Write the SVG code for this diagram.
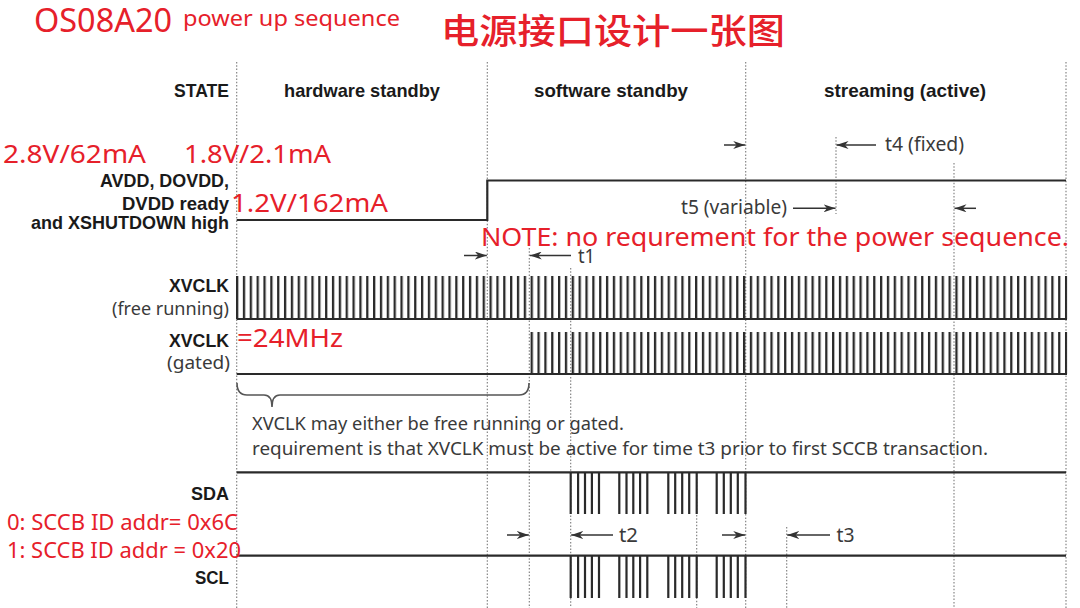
<svg xmlns="http://www.w3.org/2000/svg" width="1080" height="608" viewBox="0 0 1080 608">
<style>
.red{fill:#e6202a;font-family:"Noto Sans","Liberation Sans",sans-serif}
.cjk{fill:#e6202a;font-family:"Noto Sans CJK SC","Noto Sans",sans-serif;font-weight:500}
.lbl{fill:#1a1a1a;font-family:"Liberation Sans",Arial,sans-serif;font-weight:bold;font-size:19px}
.txt{fill:#3a3a3a;font-family:"Noto Sans","Liberation Sans",sans-serif;font-size:18px}
.tl{fill:#3a3a3a;font-family:"Noto Sans","Liberation Sans",sans-serif;font-size:19px}
.dot{stroke:#7a7a7a;stroke-width:1.1;stroke-dasharray:1.5 1.8;fill:none}
.sig{stroke:#2a2a2a;stroke-width:2.2;fill:none}
.arr{stroke:#333;stroke-width:1.5;fill:none;marker-end:url(#ah)}
.brace{stroke:#555;stroke-width:1.6;fill:none}
</style>
<defs>
<marker id="ah" viewBox="0 0 12 8" refX="12" refY="4" markerWidth="12" markerHeight="8" markerUnits="userSpaceOnUse" orient="auto"><path d="M0,0 L12,4 L0,8 L3.5,4 Z" fill="#333"/></marker>
<pattern id="clk" x="236" y="0" width="6.851" height="608" patternUnits="userSpaceOnUse"><rect x="0" y="0" width="2.3" height="608" fill="#2a2a2a"/></pattern>
</defs>
<rect x="0" y="0" width="1080" height="608" fill="#ffffff"/>

<g id="gridlines">
<line class="dot" x1="236.7" y1="62" x2="236.7" y2="608"/>
<line class="dot" x1="487.3" y1="62" x2="487.3" y2="608"/>
<line class="dot" x1="529.3" y1="248" x2="529.3" y2="608"/>
<line class="dot" x1="570.7" y1="268" x2="570.7" y2="608"/>
<line class="dot" x1="696.7" y1="472" x2="696.7" y2="608"/>
<line class="dot" x1="745.7" y1="62" x2="745.7" y2="608"/>
<line class="dot" x1="786.7" y1="527" x2="786.7" y2="608"/>
<line class="dot" x1="836" y1="137" x2="836" y2="214"/>
<line class="dot" x1="954" y1="163" x2="954" y2="608"/>
<line class="dot" x1="1066" y1="62" x2="1066" y2="608"/>
</g>

<g id="title">
<text class="red" x="34" y="32" font-size="32" textLength="138" lengthAdjust="spacingAndGlyphs">OS08A20</text>
<text class="red" x="183" y="26" font-size="22" textLength="217" lengthAdjust="spacingAndGlyphs">power up sequence</text>
<text class="cjk" x="441" y="44" font-size="35" textLength="344" lengthAdjust="spacingAndGlyphs">电源接口设计一张图</text>
</g>

<g id="state-row">
<text class="lbl" x="229" y="96.5" text-anchor="end" textLength="55" lengthAdjust="spacingAndGlyphs">STATE</text>
<text class="lbl" x="284" y="96.5" textLength="156" lengthAdjust="spacingAndGlyphs">hardware standby</text>
<text class="lbl" x="534" y="96.5" textLength="154" lengthAdjust="spacingAndGlyphs">software standby</text>
<text class="lbl" x="824" y="96.5" textLength="162" lengthAdjust="spacingAndGlyphs">streaming (active)</text>
</g>

<g id="power-signal">
<text class="lbl" x="229" y="187" text-anchor="end" font-size="18" textLength="129" lengthAdjust="spacingAndGlyphs">AVDD, DOVDD,</text>
<text class="lbl" x="229" y="209.5" text-anchor="end" font-size="18" textLength="107" lengthAdjust="spacingAndGlyphs">DVDD ready</text>
<text class="lbl" x="229" y="228.5" text-anchor="end" font-size="18" textLength="198" lengthAdjust="spacingAndGlyphs">and XSHUTDOWN high</text>
<path class="sig" d="M236.7,220 H487.3 V180.5 H1066"/>
</g>

<g id="xvclk-free">
<text class="lbl" x="229" y="292" text-anchor="end" textLength="60" lengthAdjust="spacingAndGlyphs">XVCLK</text>
<text class="txt" x="229" y="315" text-anchor="end" textLength="117" lengthAdjust="spacingAndGlyphs">(free running)</text>
<rect x="236" y="276" width="831.3" height="43" fill="url(#clk)"/>
<line class="sig" x1="236.7" y1="319" x2="1067" y2="319"/>
</g>

<g id="xvclk-gated">
<text class="lbl" x="229" y="347" text-anchor="end" textLength="60" lengthAdjust="spacingAndGlyphs">XVCLK</text>
<text class="txt" x="230" y="369" text-anchor="end" textLength="63" lengthAdjust="spacingAndGlyphs">(gated)</text>
<rect x="529" y="332" width="538.3" height="42" fill="url(#clk)"/>
<line class="sig" x1="236.7" y1="374" x2="1067" y2="374"/>
</g>

<g id="clock-note">
<path class="brace" d="M237,383 Q237,395 247,395 H264 Q272,395 272,407 Q272,395 280,395 H519 Q529,395 529,383"/>
<text class="txt" x="252" y="430" textLength="372" lengthAdjust="spacingAndGlyphs">XVCLK may either be free running or gated.</text>
<text class="txt" x="252" y="455" textLength="736" lengthAdjust="spacingAndGlyphs">requirement is that XVCLK must be active for time t3 prior to first SCCB transaction.</text>
</g>

<g id="sda">
<text class="lbl" x="229" y="500" text-anchor="end" textLength="38" lengthAdjust="spacingAndGlyphs">SDA</text>
<line class="sig" x1="236.7" y1="472.3" x2="1066" y2="472.3"/>
<path class="sig" d="M570.7,472 V514 M578.1,472 V514 M585,472 V514 M591.9,472 V514 M599,472 V514 M619.3,472 V514 M626.5,472 V514 M633.3,472 V514 M640.1,472 V514 M647.3,472 V514 M668.3,472 V514 M675.2,472 V514 M682.2,472 V514 M689.2,472 V514 M696.7,472 V514 M716.7,472 V514 M723.8,472 V514 M730.8,472 V514 M737.8,472 V514 M745.5,472 V514"/>
</g>

<g id="scl">
<text class="lbl" x="229" y="584" text-anchor="end" textLength="34" lengthAdjust="spacingAndGlyphs">SCL</text>
<line class="sig" x1="236.7" y1="555.7" x2="1066" y2="555.7"/>
<path class="sig" d="M570.7,556 V598 M578.1,556 V598 M585,556 V598 M591.9,556 V598 M599,556 V598 M619.3,556 V598 M626.5,556 V598 M633.3,556 V598 M640.1,556 V598 M647.3,556 V598 M668.3,556 V598 M675.2,556 V598 M682.2,556 V598 M689.2,556 V598 M696.7,556 V598 M716.7,556 V598 M723.8,556 V598 M730.8,556 V598 M737.8,556 V598 M745.5,556 V598"/>
</g>

<g id="connectors">
<line class="arr" x1="724" y1="145" x2="745.2" y2="145"/>
<line class="arr" x1="876" y1="145" x2="836.5" y2="145"/>
<line class="arr" x1="793" y1="208.3" x2="835.5" y2="208.3"/>
<line class="arr" x1="976" y1="208.3" x2="954.5" y2="208.3"/>
<line class="arr" x1="464" y1="255.5" x2="486.8" y2="255.5"/>
<line class="arr" x1="571" y1="255.5" x2="529.8" y2="255.5"/>
<line class="arr" x1="507" y1="535" x2="528.8" y2="535"/>
<line class="arr" x1="613" y1="535" x2="571.2" y2="535"/>
<line class="arr" x1="722" y1="535" x2="745.2" y2="535"/>
<line class="arr" x1="830" y1="535" x2="787.2" y2="535"/>
</g>

<g id="timing-labels">
<text class="tl" x="885" y="151" textLength="79" lengthAdjust="spacingAndGlyphs">t4 (fixed)</text>
<text class="tl" x="681" y="213.5" textLength="106" lengthAdjust="spacingAndGlyphs">t5 (variable)</text>
<text class="tl" x="578" y="263" textLength="17" lengthAdjust="spacingAndGlyphs">t1</text>
<text class="tl" x="619" y="541.7" textLength="19" lengthAdjust="spacingAndGlyphs">t2</text>
<text class="tl" x="836.5" y="541.7" textLength="18" lengthAdjust="spacingAndGlyphs">t3</text>
</g>

<g id="annotations">
<text class="red" x="3" y="163.3" font-size="26" textLength="143" lengthAdjust="spacingAndGlyphs">2.8V/62mA</text>
<text class="red" x="184" y="163.3" font-size="26" textLength="147" lengthAdjust="spacingAndGlyphs">1.8V/2.1mA</text>
<text class="red" x="231" y="211.5" font-size="26" textLength="157" lengthAdjust="spacingAndGlyphs">1.2V/162mA</text>
<text class="red" x="481" y="246" font-size="26" textLength="588" lengthAdjust="spacingAndGlyphs">NOTE: no requrement for the power sequence.</text>
<text class="red" x="237" y="347" font-size="25" textLength="106" lengthAdjust="spacingAndGlyphs">=24MHz</text>
<text class="red" x="7" y="530" font-size="21.5" textLength="231" lengthAdjust="spacingAndGlyphs">0: SCCB ID addr= 0x6C</text>
<text class="red" x="7" y="557.5" font-size="21.5" textLength="234" lengthAdjust="spacingAndGlyphs">1: SCCB ID addr = 0x20</text>
</g>
</svg>
